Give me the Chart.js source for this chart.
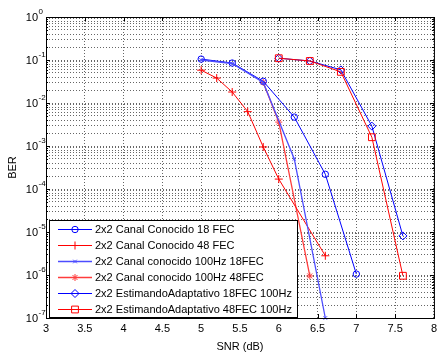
<!DOCTYPE html>
<html lang="es">
<head>
  <meta charset="UTF-8">
  <title>BER vs SNR</title>
  <script src="https://cdn.jsdelivr.net/npm/chart.js"></script>
  <style>
    body { margin: 0; background: #fff; }
    #caja { width: 441px; height: 352px; }
  </style>
</head>
<body>
  <div id="caja">
    <canvas id="chartBER" width="441" height="352"></canvas>
  </div>

<script>

  // Datos (SNR en dB, BER)
  const nombres = [
    '2x2 Canal Conocido 18 FEC',
    '2x2 Canal Conocido 48 FEC',
    '2x2 Canal conocido 100Hz 18FEC',
    '2x2 Canal conocido 100Hz 48FEC',
    '2x2 EstimandoAdaptativo 18FEC 100Hz',
    '2x2 EstimandoAdaptativo 48FEC 100Hz'
  ];

  const snr1 = [5, 5.4, 5.8, 6.2, 6.6, 7];
  const ber1 = [0.105, 0.085, 0.032, 0.0047, 2.2e-4, 1.05e-6];

  const snr2 = [5, 5.2, 5.4, 5.6, 5.8, 6, 6.6];
  const ber2 = [0.058, 0.038, 0.018, 0.0063, 9.5e-4, 1.7e-4, 2.8e-6];

  const snr3 = [5, 5.4, 5.8, 6.2, 6.6];
  const ber3 = [0.1, 0.083, 0.03, 5e-4, 1e-7];

  const snr4 = [5.8, 6, 6.4];
  const ber4 = [0.03, 0.0036, 9.5e-7];

  const snr5 = [6, 6.4, 6.8, 7.2, 7.6];
  const ber5 = [0.11, 0.095, 0.059, 0.0029, 8.1e-6];

  const snr6 = [6, 6.4, 6.8, 7.2, 7.6];
  const ber6 = [0.11, 0.095, 0.053, 0.0016, 9.6e-7];

  const xTicks = [3, 3.5, 4, 4.5, 5, 5.5, 6, 6.5, 7, 7.5, 8];
  const decadas = [-7, -6, -5, -4, -3, -2, -1, 0];

  const fuente = '"Liberation Sans", Arial, sans-serif';

  function puntos(x, y) {
    return x.map((v, i) => ({ x: v, y: y[i] }));
  }

  function serie(i, x, y, color, estilo, radio, ancho, orden) {
    return {
      label: nombres[i],
      data: puntos(x, y),
      borderColor: color,
      backgroundColor: 'rgba(0,0,0,0)',
      borderWidth: ancho,
      pointStyle: estilo,
      pointRadius: radio,
      pointBorderWidth: 1,
      pointBorderColor: color,
      pointBackgroundColor: 'rgba(0,0,0,0)',
      tension: 0,
      clip: false,
      order: orden
    };
  }

  // order alto = se dibuja primero (debajo)
  const datasets = [
    serie(0, snr1, ber1, '#0000ff', 'circle', 3.2, 1, 5),
    serie(1, snr2, ber2, '#ff0000', 'cross', 4, 1, 4),
    serie(2, snr3, ber3, '#4d4dff', 'crossRot', 2.5, 1.3, 3),
    serie(3, snr4, ber4, '#ff3c3c', 'star', 3.5, 1.3, 7),
    serie(4, snr5, ber5, '#0000ff', 'rectRot', 4, 1, 1),
    serie(5, snr6, ber6, '#ff0000', 'rect', 4.8, 1, 0)
  ];

  // marco, ticks internos, etiquetas 10^n y leyenda al estilo MATLAB
  const estiloMatlab = {
    id: 'estiloMatlab',
    afterDraw(chart) {
      const ctx = chart.ctx;
      const a = chart.chartArea;
      const sx = chart.scales.x;
      const sy = chart.scales.y;

      ctx.save();
      ctx.strokeStyle = '#000';
      ctx.lineWidth = 1;
      ctx.strokeRect(a.left + 0.5, a.top + 0.5, a.right - a.left, a.bottom - a.top);

      ctx.beginPath();
      xTicks.forEach(v => {
        const px = Math.round(sx.getPixelForValue(v)) + 0.5;
        ctx.moveTo(px, a.bottom); ctx.lineTo(px, a.bottom - 4);
        ctx.moveTo(px, a.top); ctx.lineTo(px, a.top + 4);
      });
      sy.ticks.forEach(t => {
        const py = Math.round(sy.getPixelForValue(t.value)) + 0.5;
        const largo = t.major ? 4 : 2;
        ctx.moveTo(a.left, py); ctx.lineTo(a.left + largo, py);
        ctx.moveTo(a.right, py); ctx.lineTo(a.right - largo, py);
      });
      ctx.stroke();

      // etiquetas del eje Y
      ctx.fillStyle = '#000';
      decadas.forEach(e => {
        const py = sy.getPixelForValue(Math.pow(10, e));
        ctx.font = '11px ' + fuente;
        ctx.textAlign = 'right';
        ctx.textBaseline = 'middle';
        ctx.fillText('10', 38, py + 1);
        ctx.font = '8px ' + fuente;
        ctx.textAlign = 'left';
        ctx.fillText(String(e), 38.5, py - 5);
      });

      // leyenda
      const lx = 49, ly = 220, lw = 248, lh = 97;
      ctx.fillStyle = '#fff';
      ctx.fillRect(lx, ly, lw, lh);
      ctx.strokeStyle = '#000';
      ctx.strokeRect(lx + 0.5, ly + 0.5, lw, lh);
      chart.data.datasets.forEach((ds, i) => {
        const y = ly + 9.5 + i * 16;
        ctx.strokeStyle = ds.borderColor;
        ctx.lineWidth = ds.borderWidth;
        ctx.beginPath();
        ctx.moveTo(58, y); ctx.lineTo(92, y);
        ctx.stroke();
        ctx.lineWidth = 1;
        ctx.fillStyle = 'rgba(0,0,0,0)';
        Chart.helpers.drawPoint(ctx, {
          pointStyle: ds.pointStyle,
          radius: ds.pointRadius,
          rotation: 0,
          borderWidth: 1
        }, 75, y);
        ctx.fillStyle = '#000';
        ctx.font = '11px ' + fuente;
        ctx.textAlign = 'left';
        ctx.textBaseline = 'middle';
        ctx.fillText(ds.label, 95, y);
      });
      ctx.restore();
    }
  };

  const grafico = document.getElementById('chartBER');

  new Chart(grafico, {
    type: 'line',
    data: { datasets: datasets },
    options: {
      responsive: false,
      animation: false,
      layout: {
        autoPadding: false,
        padding: { top: 17, left: 0, right: 0, bottom: 0 }
      },
      plugins: {
        legend: { display: false },
        tooltip: { enabled: false }
      },
      scales: {
        x: {
          type: 'linear',
          min: 3,
          max: 8,
          afterBuildTicks: s => { s.ticks = xTicks.map(v => ({ value: v })); },
          afterFit: s => { s.height = 34; },
          ticks: {
            color: '#000',
            padding: 4,
            maxRotation: 0,
            font: { family: fuente, size: 11 },
            callback: v => String(v)
          },
          grid: { color: 'rgba(0,0,0,0.6)', drawTicks: false },
          border: { display: false, dash: [1, 2] },
          title: {
            display: true,
            text: 'SNR (dB)',
            color: '#000',
            font: { family: fuente, size: 11, lineHeight: 1 },
            padding: { top: 0, bottom: 0 }
          }
        },
        y: {
          type: 'logarithmic',
          min: 1e-7,
          max: 1,
          afterBuildTicks: s => {
            const t = [];
            decadas.forEach(e => {
              for (let m = 1; m <= 9; m++) {
                if (e === 0 && m > 1) break;
                t.push({ value: m * Math.pow(10, e), major: m === 1 });
              }
            });
            s.ticks = t;
          },
          afterFit: s => { s.width = 46; },
          ticks: { display: false },
          grid: { color: 'rgba(0,0,0,0.6)', drawTicks: false },
          border: { display: false, dash: [1, 2] },
          title: {
            display: true,
            text: 'BER',
            color: '#000',
            font: { family: fuente, size: 11 },
            padding: { top: 6, bottom: 0 }
          }
        }
      }
    },
    plugins: [estiloMatlab]
  });

</script>
</body>
</html>
